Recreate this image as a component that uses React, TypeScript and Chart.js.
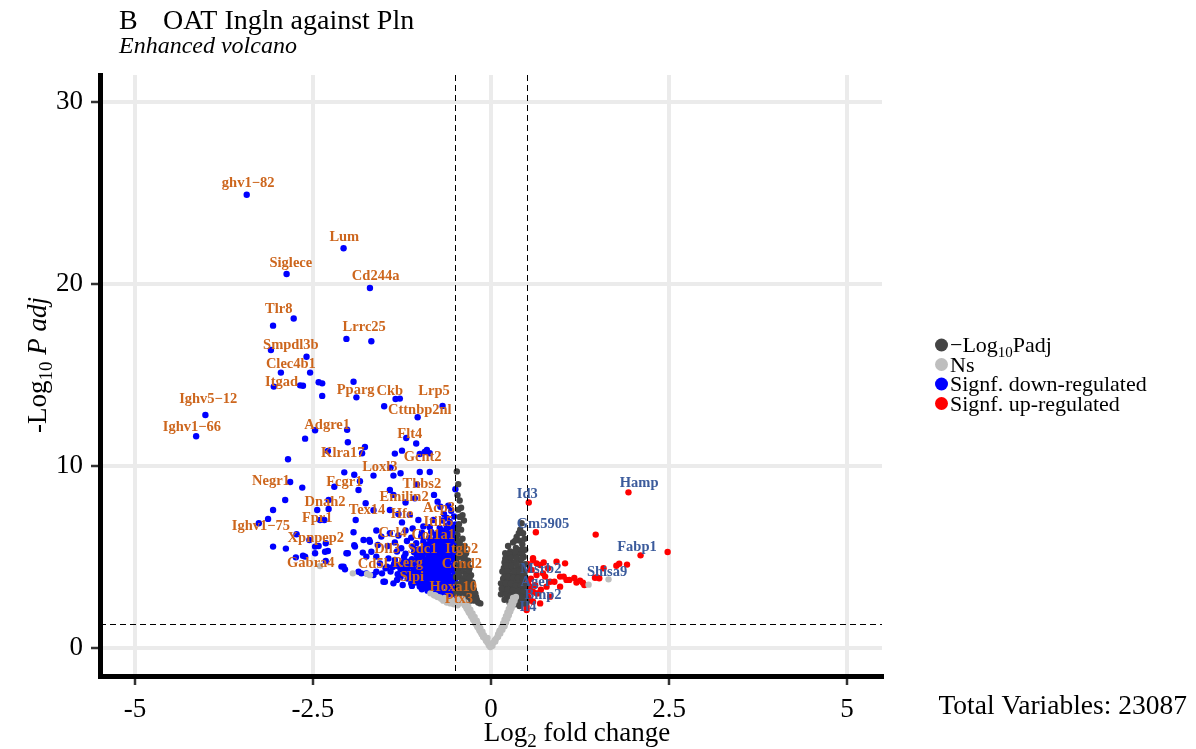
import React, { useEffect, useRef } from "react";
import { Chart, registerables } from "chart.js";

Chart.register(...registerables);

const SERIF = "'Liberation Serif', 'Times New Roman', serif";

const X_TICKS = [-5, -2.5, 0, 2.5, 5];
const Y_TICKS = [0, 10, 20, 30];
const X_MIN = -5.49;
const X_MAX = 5.49;
const Y_MIN = -1.54;
const Y_MAX = 31.48;
const FC_CUTOFF = 0.5;
const P_CUTOFF = 0.05;
const TOTAL_VARIABLES = 23087;

const COL_SIGP = "#444444";
const COL_NS = "#BEBEBE";
const COL_DOWN = "#0000FF";
const COL_UP = "#FF0000";
const COL_DOWN_LABEL = "#CD661D";
const COL_UP_LABEL = "#3B5B9C";

// Not significant (grey)
const nsPoints: [number, number][] = [
  [-0.01, 0.05], [-0.03, 0.15], [0.0, 0.1], [0.02, 0.12],
  [-0.05, 0.3], [-0.02, 0.25], [0.03, 0.28], [0.06, 0.35],
  [-0.08, 0.5], [-0.05, 0.55], [0.07, 0.5], [0.09, 0.6],
  [-0.1, 0.7], [-0.13, 0.75], [0.1, 0.75], [0.13, 0.8],
  [-0.12, 0.9], [-0.16, 0.95], [0.12, 0.95], [0.16, 1.0],
  [-0.15, 1.1], [-0.19, 1.15], [0.15, 1.15], [0.19, 1.2],
  [-0.18, 1.3], [-0.22, 1.35], [0.17, 1.35], [0.21, 1.4],
  [-0.2, 1.5], [-0.25, 1.55], [0.19, 1.55], [0.23, 1.6],
  [-0.23, 1.7], [-0.28, 1.75], [0.21, 1.75], [0.25, 1.8],
  [-0.26, 1.9], [-0.31, 1.95], [0.23, 1.95], [0.27, 2.0],
  [-0.29, 2.1], [-0.34, 2.15], [0.25, 2.15], [0.29, 2.2],
  [-0.32, 2.3], [-0.37, 2.35], [0.27, 2.35], [0.31, 2.4],
  [-0.36, 2.5], [-0.41, 2.55], [0.29, 2.55], [0.33, 2.6],
  [-0.4, 2.7], [-0.45, 2.7], [0.31, 2.75], [0.35, 2.8],
  [-0.07, 0.4], [-0.11, 0.6], [-0.14, 0.85], [-0.17, 1.05], [-0.2, 1.25], [-0.23, 1.45],
  [-0.26, 1.65], [-0.29, 1.85], [-0.32, 2.05], [-0.35, 2.25], [-0.38, 2.45], [-0.42, 2.6],
  [0.05, 0.42], [0.1, 0.62], [0.12, 0.88], [0.15, 1.08], [0.17, 1.28], [0.2, 1.48],
  [0.22, 1.68], [0.25, 1.9], [0.27, 2.08], [0.29, 2.3], [0.31, 2.5], [0.33, 2.7],
  [-0.75, 2.8], [-0.7, 2.7], [-0.65, 2.75], [-0.6, 2.6], [-0.55, 2.65],
  [-0.5, 2.55], [-0.45, 2.45], [-0.62, 2.5], [-0.52, 2.4], [-0.8, 2.9],
  [-0.85, 3.0], [-0.57, 2.45], [-0.67, 2.6], [-0.47, 2.35], [-0.72, 2.78], [-0.78, 2.88],
  [-2.4, 4.5], [-1.94, 4.1], [-1.74, 4.07], [-1.7, 4.0],
  [1.37, 3.48], [1.65, 3.77],
];

// Significant p, small fold change (dark grey)
const sigPPoints: [number, number][] = [
  [-0.48, 9.7], [-0.44, 8.1], [-0.42, 7.7], [-0.4, 7.3], [-0.38, 7.0], [-0.45, 6.8],
  [-0.42, 6.5], [-0.47, 6.2], [-0.4, 6.0], [-0.44, 5.8], [-0.37, 5.6], [-0.48, 5.5],
  [-0.42, 5.3], [-0.35, 5.2], [-0.46, 5.0], [-0.39, 4.9], [-0.32, 4.8], [-0.48, 4.7],
  [-0.43, 4.6], [-0.36, 4.5], [-0.3, 4.4], [-0.47, 4.3], [-0.41, 4.2], [-0.34, 4.1],
  [-0.28, 4.0], [-0.49, 3.9], [-0.44, 3.9], [-0.38, 3.8], [-0.32, 3.7], [-0.26, 3.6],
  [-0.47, 3.5], [-0.42, 3.5], [-0.36, 3.4], [-0.3, 3.3], [-0.24, 3.2], [-0.49, 3.1],
  [-0.44, 3.1], [-0.39, 3.0], [-0.33, 3.0], [-0.27, 2.9], [-0.21, 2.8], [-0.46, 2.8],
  [-0.41, 2.7], [-0.35, 2.7], [-0.29, 2.6], [-0.23, 2.6], [-0.18, 2.5], [-0.38, 2.5],
  [-0.47, 5.9], [-0.43, 5.6], [-0.39, 5.45], [-0.45, 5.15], [-0.37, 5.0], [-0.33, 4.6],
  [-0.45, 4.45], [-0.39, 4.35], [-0.31, 4.25], [-0.46, 4.05], [-0.36, 3.95], [-0.3, 3.85],
  [-0.41, 3.65], [-0.35, 3.55], [-0.28, 3.45], [-0.45, 3.3], [-0.39, 3.2], [-0.33, 3.15],
  [-0.27, 3.1], [-0.22, 3.0], [-0.48, 2.95], [-0.42, 2.9], [-0.36, 2.85], [-0.3, 2.78],
  [-0.25, 2.72], [-0.2, 2.65], [-0.15, 2.45], [-0.43, 2.6], [-0.33, 2.55], [-0.47, 6.5],
  [-0.44, 7.2], [-0.46, 7.6], [-0.47, 8.4], [-0.46, 9.0],
  [0.43, 6.85], [0.41, 6.5], [0.45, 6.3], [0.36, 6.1], [0.31, 5.8], [0.4, 5.9],
  [0.27, 5.3], [0.35, 5.5], [0.48, 5.4], [0.22, 5.0], [0.3, 5.1], [0.38, 5.2],
  [0.46, 5.0], [0.19, 4.7], [0.26, 4.8], [0.33, 4.7], [0.41, 4.8], [0.48, 4.6],
  [0.18, 4.4], [0.24, 4.4], [0.3, 4.3], [0.37, 4.4], [0.44, 4.3], [0.2, 4.1],
  [0.27, 4.0], [0.34, 4.0], [0.41, 4.0], [0.48, 3.9], [0.17, 3.8], [0.23, 3.7],
  [0.3, 3.7], [0.37, 3.6], [0.44, 3.6], [0.2, 3.4], [0.27, 3.4], [0.34, 3.3],
  [0.41, 3.3], [0.48, 3.2], [0.18, 3.1], [0.24, 3.0], [0.31, 3.0], [0.38, 2.9],
  [0.45, 2.9], [0.22, 2.8], [0.29, 2.7], [0.36, 2.6], [0.43, 2.6], [0.5, 2.5],
  [0.26, 2.5], [0.33, 2.4], [0.4, 2.3],
  [0.2, 5.2], [0.24, 5.6], [0.34, 5.9], [0.39, 6.3], [0.47, 6.0], [0.44, 5.7],
  [0.42, 5.4], [0.34, 5.3], [0.26, 5.15], [0.44, 5.15], [0.2, 4.9], [0.28, 4.95],
  [0.36, 4.95], [0.43, 4.9], [0.22, 4.55], [0.29, 4.55], [0.36, 4.6], [0.44, 4.55],
  [0.16, 4.2], [0.23, 4.2], [0.33, 4.2], [0.4, 4.2], [0.47, 4.15], [0.19, 3.95],
  [0.24, 3.9], [0.31, 3.85], [0.38, 3.85], [0.45, 3.8], [0.14, 3.55], [0.21, 3.55],
  [0.28, 3.55], [0.35, 3.45], [0.42, 3.45], [0.49, 3.45], [0.15, 3.25], [0.23, 3.2],
  [0.3, 3.15], [0.38, 3.15], [0.45, 3.1], [0.14, 2.95], [0.21, 2.95], [0.28, 2.9],
  [0.35, 2.8], [0.42, 2.8], [0.49, 2.75], [0.19, 2.65], [0.26, 2.62], [0.33, 2.55],
  [0.4, 2.5], [0.47, 2.45],
];

// Significantly down-regulated (blue)
const downPoints: [number, number][] = [
  [-3.43, 24.9], [-2.07, 21.96], [-2.87, 20.55], [-1.70, 19.78], [-3.06, 17.71], [-2.77, 18.1],
  [-2.03, 16.98], [-1.68, 16.85], [-3.09, 16.37], [-2.59, 16.0], [-2.95, 15.13], [-2.54, 15.13],
  [-3.05, 14.36], [-2.68, 14.43], [-2.64, 14.41], [-2.42, 14.6], [-2.37, 14.54], [-2.37, 13.85],
  [-1.93, 14.63], [-1.89, 13.77], [-1.34, 13.68], [-1.28, 13.70], [-1.50, 13.28], [-0.68, 13.30],
  [-1.03, 12.68], [-4.01, 12.80], [-4.14, 11.63], [-2.47, 11.96], [-2.02, 11.99], [-2.61, 11.5],
  [-2.01, 11.3], [-1.77, 11.04], [-1.19, 11.54], [-1.05, 11.23], [-1.35, 10.68], [-1.25, 10.84],
  [-0.90, 10.88], [-0.93, 10.77], [-1.0, 10.66], [-2.29, 10.82], [-1.81, 10.70], [-2.85, 10.37],
  [-0.86, 10.7],
  [-2.82, 9.12], [-2.65, 8.81], [-2.06, 9.65], [-1.92, 9.52], [-1.65, 9.47], [-1.41, 9.91],
  [-1.37, 9.47], [-1.27, 9.6], [-1.0, 9.67], [-0.86, 9.67], [-2.2, 8.86], [-1.84, 9.16],
  [-1.86, 8.68], [-1.04, 8.99], [-0.80, 8.41], [-0.50, 8.72], [-1.42, 8.68], [-1.37, 8.41],
  [-1.20, 7.99], [-1.07, 8.22], [-2.28, 8.13], [-2.89, 8.13], [-2.44, 7.58], [-2.28, 7.64],
  [-3.06, 7.58], [-1.76, 7.95], [-1.65, 7.57], [-1.90, 7.03], [-1.42, 7.58], [-1.30, 7.36],
  [-1.14, 7.31], [-1.02, 7.03], [-0.75, 8.04], [-0.71, 7.76], [-0.60, 7.82], [-0.56, 7.54],
  [-0.66, 7.36], [-2.40, 7.03], [-2.34, 7.03], [-3.26, 6.85], [-3.13, 7.09], [-0.81, 7.03],
  [-0.86, 6.63], [-1.61, 6.45], [-1.54, 6.12], [-1.71, 5.93], [-1.79, 5.93], [-1.93, 6.36],
  [-2.73, 6.25], [-2.55, 5.93], [-2.47, 5.57], [-2.32, 5.75], [-2.29, 5.33], [-2.42, 5.6],
  [-3.06, 5.57], [-2.88, 5.46], [-2.47, 5.2], [-2.74, 4.98], [-2.64, 5.07], [-2.32, 4.78],
  [-2.10, 4.47], [-2.05, 4.32], [-1.92, 5.64], [-2.03, 5.2], [-1.80, 5.24], [-1.61, 5.02],
  [-1.86, 4.19], [-1.75, 4.1], [-1.65, 4.01], [-1.53, 4.1], [-1.49, 3.64], [-1.37, 3.55],
  [-1.24, 3.46], [-1.11, 3.41], [-0.62, 3.37], [-0.58, 2.64],
  [-2.61, 5.02], [-2.33, 5.29], [-2.07, 4.47], [-2.01, 5.2], [-1.91, 5.57], [-1.82, 4.1],
  [-1.61, 4.19], [-1.51, 3.64], [-1.32, 3.74], [-1.75, 5.02], [-1.68, 5.29], [-1.56, 4.65],
  [-1.46, 4.47], [-1.35, 4.84], [-1.70, 5.84], [-1.59, 5.66],
  [-0.52, 2.72], [-0.61, 2.78], [-0.69, 2.85],
  [-0.53, 3.02], [-0.6, 3.08], [-0.67, 3.0], [-0.74, 3.1], [-0.81, 3.05], [-0.89, 3.15], [-0.97, 3.22],
  [-0.55, 3.32], [-0.63, 3.38], [-0.7, 3.3], [-0.77, 3.4], [-0.84, 3.35], [-0.92, 3.45], [-1.0, 3.38], [-1.05, 3.6],
  [-0.52, 3.62], [-0.58, 3.7], [-0.66, 3.6], [-0.73, 3.68], [-0.8, 3.62], [-0.87, 3.72], [-0.94, 3.65],
  [-1.01, 3.75], [-1.09, 3.7], [-1.17, 3.82], [-1.27, 3.9],
  [-0.55, 3.92], [-0.62, 3.98], [-0.69, 3.9], [-0.76, 4.0], [-0.83, 3.94], [-0.9, 4.05], [-0.97, 3.96],
  [-1.04, 4.08], [-1.13, 4.0], [-1.21, 4.12], [-1.31, 4.05], [-1.41, 4.2],
  [-0.52, 4.22], [-0.58, 4.3], [-0.65, 4.2], [-0.72, 4.28], [-0.79, 4.22], [-0.86, 4.33], [-0.93, 4.25],
  [-1.0, 4.35], [-1.08, 4.28], [-1.17, 4.4], [-1.27, 4.32], [-1.38, 4.45], [-1.48, 4.38],
  [-0.55, 4.52], [-0.62, 4.58], [-0.69, 4.5], [-0.76, 4.6], [-0.83, 4.54], [-0.9, 4.64], [-0.98, 4.55],
  [-1.06, 4.66], [-1.15, 4.58], [-1.25, 4.7], [-1.36, 4.62],
  [-0.52, 4.82], [-0.58, 4.9], [-0.65, 4.8], [-0.72, 4.88], [-0.79, 4.82], [-0.86, 4.93], [-0.94, 4.85],
  [-1.02, 4.95], [-1.11, 4.88], [-1.22, 5.0], [-1.44, 4.92],
  [-0.55, 5.12], [-0.62, 5.18], [-0.69, 5.1], [-0.76, 5.2], [-0.83, 5.14], [-0.9, 5.24], [-0.99, 5.15],
  [-1.08, 5.26], [-1.2, 5.18], [-1.32, 5.3],
  [-0.52, 5.42], [-0.59, 5.5], [-0.66, 5.4], [-0.73, 5.48], [-0.8, 5.42], [-0.88, 5.53], [-0.97, 5.45],
  [-1.1, 5.56], [-1.26, 5.48], [-1.45, 5.6],
  [-0.55, 5.72], [-0.62, 5.8], [-0.7, 5.7], [-0.78, 5.78], [-0.86, 5.74], [-0.95, 5.84], [-1.05, 5.76],
  [-1.18, 5.88], [-1.35, 5.8],
  [-0.52, 6.02], [-0.6, 6.1], [-0.68, 6.0], [-0.77, 6.08], [-0.87, 6.04], [-0.98, 6.14], [-1.12, 6.06], [-1.3, 6.18],
  [-0.56, 6.32], [-0.64, 6.4], [-0.73, 6.3], [-0.84, 6.38], [-0.97, 6.34], [-1.2, 6.45], [-1.42, 6.3],
  [-0.53, 6.62], [-0.62, 6.7], [-0.72, 6.6], [-0.95, 6.68], [-1.1, 6.56],
  [-0.58, 6.92], [-0.68, 7.0], [-1.25, 6.9],
  [-0.52, 7.22], [-0.62, 7.15],
  [-0.56, 2.88], [-0.64, 2.92], [-0.72, 2.96], [-0.78, 3.22], [-0.86, 3.28], [-0.94, 3.3], [-0.5, 3.2],
  [-0.57, 3.5], [-0.64, 3.52], [-0.71, 3.48], [-0.81, 3.5], [-0.89, 3.55], [-0.98, 3.52], [-1.12, 3.55],
  [-0.5, 3.82], [-0.59, 3.82], [-0.66, 3.78], [-0.72, 3.85], [-0.79, 3.8], [-0.87, 3.88], [-0.95, 3.82],
  [-1.07, 3.9], [-1.16, 3.95], [-0.5, 4.08], [-0.6, 4.12], [-0.68, 4.06], [-0.75, 4.15], [-0.82, 4.1],
  [-0.9, 4.2], [-0.97, 4.12], [-1.05, 4.22], [-1.12, 4.15], [-1.22, 4.25], [-0.5, 4.38], [-0.62, 4.42],
  [-0.7, 4.36], [-0.76, 4.45], [-0.84, 4.4], [-0.91, 4.48], [-1.02, 4.45], [-1.11, 4.5], [-1.2, 4.45],
  [-1.32, 4.52], [-0.5, 4.68], [-0.6, 4.72], [-0.68, 4.65], [-0.75, 4.74], [-0.82, 4.68], [-0.9, 4.78],
  [-0.97, 4.7], [-1.06, 4.8], [-1.16, 4.74], [-0.5, 4.98], [-0.6, 5.02], [-0.67, 4.96], [-0.74, 5.05],
  [-0.81, 4.98], [-0.88, 5.08], [-0.96, 5.0], [-1.04, 5.1], [-0.5, 5.28], [-0.59, 5.32], [-0.66, 5.25],
  [-0.73, 5.34], [-0.8, 5.28], [-0.87, 5.38], [-0.94, 5.3], [-1.03, 5.4], [-0.5, 5.58], [-0.58, 5.62],
  [-0.66, 5.55], [-0.74, 5.64], [-0.82, 5.58], [-0.91, 5.68], [-0.5, 5.88], [-0.58, 5.92], [-0.66, 5.85],
  [-0.74, 5.94], [-0.82, 5.9], [-0.5, 6.18], [-0.6, 6.22], [-0.69, 6.15], [-0.78, 6.24], [-0.5, 6.45],
  [-0.58, 6.5], [-0.68, 6.45], [-0.5, 6.78],
];

// Significantly up-regulated (red)
const upPoints: [number, number][] = [
  [1.93, 8.55], [0.53, 7.99], [0.63, 6.36], [1.47, 6.23], [2.48, 5.27], [2.10, 5.09],
  [1.91, 4.58], [1.80, 4.63], [1.76, 4.52], [1.58, 4.38], [1.49, 3.88], [1.52, 3.83],
  [1.46, 3.86], [1.29, 3.59], [1.25, 3.70], [1.31, 3.46], [1.10, 3.74], [1.02, 3.92],
  [0.92, 4.74], [1.04, 4.65], [0.97, 3.37], [0.89, 3.64], [0.59, 4.84], [0.69, 4.56],
  [0.80, 4.38], [0.55, 4.29], [0.64, 4.01], [0.76, 3.92], [0.83, 3.64], [0.55, 3.37],
  [0.59, 3.09], [0.66, 3.0], [0.52, 2.82], [0.59, 2.54], [0.50, 2.27], [0.59, 4.93],
  [0.64, 4.65], [0.57, 4.29], [0.73, 4.1], [0.97, 3.92], [1.06, 3.74], [0.52, 3.55],
  [0.78, 3.37], [0.64, 3.0], [0.83, 2.82], [0.55, 2.64], [0.69, 2.45], [0.5, 2.09],
  [0.52, 4.6], [0.56, 3.8], [0.62, 3.45], [0.7, 3.2], [0.52, 3.1], [0.74, 4.7],
  [1.17, 3.85], [1.2, 3.6],
];

// Gene labels: [name, label x, label y]
const downLabels: [string, number, number][] = [
  ["ghv1−82", -3.41, 25.55], ["Lum", -2.06, 22.58], ["Siglece", -2.81, 21.15],
  ["Cd244a", -1.62, 20.44], ["Tlr8", -2.98, 18.63], ["Lrrc25", -1.78, 17.64],
  ["Smpdl3b", -2.81, 16.65], ["Clec4b1", -2.81, 15.6], ["Itgad", -2.94, 14.62],
  ["Pparg", -1.9, 14.18], ["Ckb", -1.42, 14.12], ["Lrp5", -0.8, 14.12],
  ["Cttnbp2nl", -1.0, 13.08], ["Ighv5−12", -3.97, 13.68], ["Ighv1−66", -4.2, 12.14],
  ["Adgre1", -2.3, 12.25], ["Flt4", -1.14, 11.76], ["Klra17", -2.08, 10.71],
  ["Gcnt2", -0.96, 10.49], ["Loxl3", -1.56, 9.95], ["Negr1", -3.09, 9.18],
  ["Fcgr1", -2.06, 9.12], ["Thbs2", -0.97, 9.01], ["Emilin2", -1.22, 8.3],
  ["Dnah2", -2.33, 8.02], ["Tex14", -1.74, 7.58], ["Hfe", -1.25, 7.36],
  ["Acp3", -0.73, 7.69], ["Fpr1", -2.44, 7.14], ["Ighv1−75", -3.23, 6.7],
  ["Itih5", -0.74, 6.92], ["Ccl4", -1.38, 6.32], ["Col1a1", -0.81, 6.21],
  ["Xpnpep2", -2.46, 6.04], ["Dll3", -1.46, 5.44], ["Sdc1", -0.96, 5.44],
  ["Itgb2", -0.41, 5.44], ["Gabra4", -2.53, 4.67], ["Cd5l", -1.66, 4.62],
  ["Rerg", -1.17, 4.67], ["Ccnd2", -0.41, 4.62], ["Slpi", -1.11, 3.9],
  ["Hoxa10", -0.53, 3.35], ["Ptx3", -0.45, 2.69],
];

const upLabels: [string, number, number][] = [
  ["Hamp", 2.08, 9.07], ["Id3", 0.51, 8.46], ["Gm5905", 0.73, 6.81],
  ["Fabp1", 2.05, 5.55], ["Msrb2", 0.7, 4.34], ["Shisa9", 1.63, 4.18],
  ["Ager", 0.63, 3.63], ["Bmp2", 0.73, 2.91], ["Il4", 0.52, 2.25],
];

type Part = { t: string; size: number; style?: string; dy?: number };

function partsWidth(ctx: CanvasRenderingContext2D, parts: Part[]) {
  let w = 0;
  for (const p of parts) {
    ctx.font = `${p.style || ""} ${p.size}px ${SERIF}`;
    w += ctx.measureText(p.t).width;
  }
  return w;
}

function drawParts(ctx: CanvasRenderingContext2D, parts: Part[], x: number, y: number, align: "left" | "center" | "right") {
  const w = partsWidth(ctx, parts);
  let cx = align === "left" ? x : align === "center" ? x - w / 2 : x - w;
  ctx.textAlign = "left";
  for (const p of parts) {
    ctx.font = `${p.style || ""} ${p.size}px ${SERIF}`;
    ctx.fillText(p.t, cx, y + (p.dy || 0));
    cx += ctx.measureText(p.t).width;
  }
}

const volcanoDecor = {
  id: "volcanoDecor",
  afterDatasetsDraw(chart: any) {
    const { ctx, chartArea, scales } = chart;
    const { left, right, top, bottom } = chartArea;
    const xs = scales.x;
    const ys = scales.y;
    ctx.save();
    ctx.strokeStyle = "#000";
    ctx.lineWidth = 1;
    ctx.setLineDash([6, 4]);
    for (const v of [-FC_CUTOFF, FC_CUTOFF]) {
      const px = Math.round(xs.getPixelForValue(v)) + 0.5;
      ctx.beginPath();
      ctx.moveTo(px, top);
      ctx.lineTo(px, bottom);
      ctx.stroke();
    }
    const py = Math.round(ys.getPixelForValue(-Math.log10(P_CUTOFF))) + 0.5;
    ctx.beginPath();
    ctx.moveTo(left, py);
    ctx.lineTo(right, py);
    ctx.stroke();
    ctx.setLineDash([]);

    ctx.font = `bold 14.5px ${SERIF}`;
    ctx.textAlign = "center";
    ctx.textBaseline = "middle";
    ctx.fillStyle = COL_DOWN_LABEL;
    for (const [name, lx, ly] of downLabels) {
      ctx.fillText(name, xs.getPixelForValue(lx), ys.getPixelForValue(ly));
    }
    ctx.fillStyle = COL_UP_LABEL;
    for (const [name, lx, ly] of upLabels) {
      ctx.fillText(name, xs.getPixelForValue(lx), ys.getPixelForValue(ly));
    }
    ctx.restore();
  },
  afterDraw(chart: any) {
    const { ctx } = chart;
    ctx.save();
    ctx.fillStyle = "#000";
    ctx.textBaseline = "alphabetic";
    ctx.textAlign = "left";
    ctx.font = `28px ${SERIF}`;
    ctx.fillText("B", 119, 29);
    ctx.fillText("OAT Ingln against Pln", 163, 29);
    ctx.font = `italic 24px ${SERIF}`;
    ctx.fillText("Enhanced volcano", 119, 53);

    drawParts(ctx, [
      { t: "Log", size: 27 },
      { t: "2", size: 19, dy: 6 },
      { t: " fold change", size: 27 },
    ], 577, 741, "center");

    ctx.save();
    ctx.translate(46, 365);
    ctx.rotate(-Math.PI / 2);
    drawParts(ctx, [
      { t: "-Log", size: 27 },
      { t: "10", size: 19, dy: 6 },
      { t: " ", size: 27 },
      { t: "P adj", size: 27, style: "italic" },
    ], 0, 0, "center");
    ctx.restore();

    ctx.textAlign = "right";
    ctx.font = `27.5px ${SERIF}`;
    ctx.fillText(`Total Variables: ${TOTAL_VARIABLES}`, 1187, 714);

    const items: { color: string; parts: Part[] }[] = [
      { color: COL_SIGP, parts: [{ t: "−Log", size: 22 }, { t: "10", size: 15, dy: 5 }, { t: "Padj", size: 22 }] },
      { color: COL_NS, parts: [{ t: "Ns", size: 22 }] },
      { color: COL_DOWN, parts: [{ t: "Signf. down-regulated", size: 22 }] },
      { color: COL_UP, parts: [{ t: "Signf. up-regulated", size: 22 }] },
    ];
    const rows = [345, 364.5, 384, 403.5];
    items.forEach((it, i) => {
      ctx.fillStyle = it.color;
      ctx.beginPath();
      ctx.arc(941.5, rows[i], 6.5, 0, Math.PI * 2);
      ctx.fill();
      ctx.fillStyle = "#000";
      ctx.textBaseline = "alphabetic";
      drawParts(ctx, it.parts, 950, rows[i] + 7, "left");
    });
    ctx.restore();
  },
};

const toXY = (arr: [number, number][]) => arr.map(([x, y]) => ({ x, y }));

export default function App() {
  const ref = useRef<HTMLCanvasElement | null>(null);
  useEffect(() => {
    if (!ref.current) return;
    const mkDs = (label: string, data: [number, number][], color: string) => ({
      label,
      data: toXY(data),
      backgroundColor: color,
      borderColor: color,
      pointRadius: 3.2,
      pointBorderWidth: 0,
      pointHoverRadius: 3.2,
    });
    const axisFont = { family: SERIF, size: 27 };
    const chart = new Chart(ref.current, {
      type: "scatter",
      data: {
        datasets: [
          mkDs("Ns", nsPoints, COL_NS),
          mkDs("-Log10Padj", sigPPoints, COL_SIGP),
          mkDs("Signf. down-regulated", downPoints, COL_DOWN),
          mkDs("Signf. up-regulated", upPoints, COL_UP),
        ],
      },
      options: {
        animation: false,
        responsive: false,
        devicePixelRatio: 1,
        layout: { padding: { left: 0, right: 314, top: 75, bottom: 0 } },
        plugins: {
          legend: { display: false },
          tooltip: { enabled: false },
          title: { display: false },
        },
        scales: {
          x: {
            type: "linear",
            min: X_MIN,
            max: X_MAX,
            afterBuildTicks: (s: any) => {
              s.ticks = X_TICKS.map((v) => ({ value: v }));
            },
            afterFit: (s: any) => {
              s.height = 73;
            },
            grid: { color: "#EBEBEB", lineWidth: 4, tickColor: "#333333", tickWidth: 2.5, tickLength: 9 },
            border: { display: true, color: "#000", width: 5 },
            ticks: {
              font: axisFont,
              color: "#000",
              padding: 9,
              maxRotation: 0,
              autoSkip: false,
              callback: (v: any) => String(v),
            },
          },
          y: {
            type: "linear",
            min: Y_MIN,
            max: Y_MAX,
            afterBuildTicks: (s: any) => {
              s.ticks = Y_TICKS.map((v) => ({ value: v }));
            },
            afterFit: (s: any) => {
              s.width = 100;
            },
            grid: { color: "#EBEBEB", lineWidth: 4, tickColor: "#333333", tickWidth: 2.5, tickLength: 9 },
            border: { display: true, color: "#000", width: 5 },
            ticks: {
              font: axisFont,
              color: "#000",
              padding: 8,
              autoSkip: false,
              callback: (v: any) => String(v),
            },
          },
        },
      },
      plugins: [volcanoDecor],
    } as any);
    return () => chart.destroy();
  }, []);
  return (
    <div style={{ position: "fixed", left: 0, top: 0, width: 1196, height: 749, background: "#fff" }}>
      <canvas ref={ref} width={1196} height={749} style={{ display: "block" }} />
    </div>
  );
}
